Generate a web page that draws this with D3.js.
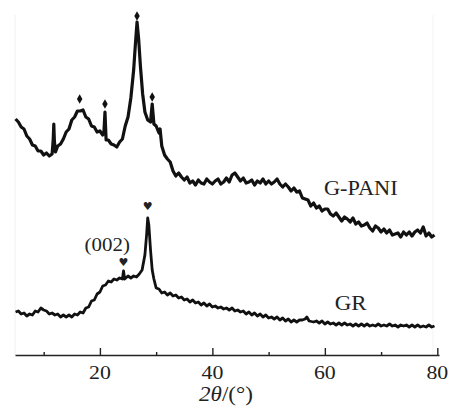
<!DOCTYPE html>
<html>
<head>
<meta charset="utf-8">
<title>XRD G-PANI / GR</title>
<script src="https://d3js.org/d3.v7.min.js"></script>
<style>
  body { margin: 0; background: #fff; }
  svg text { font-family: "Liberation Serif", "Times New Roman", serif; fill: #222; }
  .trace { fill: none; stroke: #111; stroke-linejoin: round; }
</style>
</head>
<body>
<svg width="457" height="407"></svg>
<script>
// 2theta (deg) vs intensity (a.u.)
var gpani = [
  [5.0,236],[5.5,233],[6.0,228],[6.5,226],[7.0,219],[7.5,216],[8.0,210],[8.5,209],[9.0,204],[9.5,204],
  [10.0,200],[10.5,202],[11.0,199],[11.5,201],[11.7,216],[11.8,231],[11.9,214],[12.1,203],[12.5,209],[13.0,211],
  [13.5,216],[14.0,223],[14.5,226],[15.0,235],[15.5,238],[16.0,244],[16.5,244],[17.0,245],[17.5,238],[18.0,236],
  [18.5,229],[19.0,228],[19.5,223],[20.0,224],[20.5,220],[20.7,222],[20.9,243],[21.1,215],[21.5,215],[22.0,211],
  [22.5,210],[23.0,208],[23.5,213],[24.0,216],[24.5,229],[25.0,238],[25.5,257],[26.0,285],[26.3,310],[26.6,333],
  [26.9,315],[27.2,289],[27.6,261],[28.0,243],[28.5,235],[29.0,233],[29.3,251],[29.6,231],[30.0,229],[30.5,222],
  [30.7,226],[31.0,209],[31.5,200],[32.0,196],[32.5,193],[33.0,184],[33.5,179],[34.0,182],[34.5,178],[35.0,175],
  [35.5,178],[36.0,172],[36.5,174],[37.0,170],[37.5,175],[38.0,172],[38.5,171],[39.0,176],[39.5,173],[40.0,171],
  [40.5,174],[41.0,176],[41.5,171],[42.0,173],[42.5,177],[43.0,173],[43.5,180],[44.0,182],[44.5,178],[45.0,174],
  [45.5,177],[46.0,172],[46.5,173],[47.0,175],[47.5,170],[48.0,174],[48.5,172],[49.0,176],[49.5,171],[50.0,174],
  [50.5,171],[51.0,173],[51.5,176],[52.0,171],[52.5,168],[53.0,171],[53.5,168],[54.0,164],[54.5,167],[55.0,163],
  [55.5,164],[56.0,157],[56.5,156],[57.0,155],[57.5,149],[58.0,152],[58.5,147],[59.0,149],[59.5,144],[60.0,146],
  [60.5,146],[61.0,141],[61.5,139],[62.0,142],[62.5,138],[63.0,134],[63.5,138],[64.0,136],[64.5,133],[65.0,137],
  [65.5,131],[66.0,133],[66.5,129],[67.0,130],[67.5,132],[68.0,127],[68.5,124],[69.0,129],[69.5,127],[70.0,123],
  [70.5,126],[71.0,122],[71.5,125],[72.0,120],[72.5,121],[73.0,122],[73.5,118],[74.0,123],[74.5,120],[75.0,123],
  [75.5,119],[76.0,123],[76.5,125],[77.0,122],[77.5,128],[78.0,119],[78.5,122],[79.0,118],[79.5,120]
];

var gr = [
  [5.0,43],[5.5,44],[6.0,41],[6.5,42],[7.0,39],[7.5,41],[8.0,40],[8.5,44],[9.0,43],[9.5,47],
  [10.0,45],[10.5,44],[11.0,41],[11.5,42],[12.0,40],[12.5,41],[13.0,38],[13.5,40],[14.0,38],[14.5,40],
  [15.0,38],[15.5,41],[16.0,40],[16.5,43],[17.0,42],[17.5,47],[18.0,48],[18.5,54],[19.0,55],[19.5,61],
  [20.0,63],[20.5,69],[21.0,70],[21.5,74],[22.0,73],[22.5,76],[23.0,75],[23.5,77],[24.0,76],[24.2,84],
  [24.4,76],[25.0,79],[25.5,77],[26.0,79],[26.5,78],[27.0,81],[27.5,85],[28.0,100],[28.3,120],[28.5,137],
  [28.7,130],[29.0,105],[29.3,85],[29.6,76],[30.0,67],[30.5,66],[31.0,62],[31.5,63],[32.0,60],[32.5,62],
  [33.0,59],[33.5,60],[34.0,57],[34.5,58],[35.0,55],[35.5,56],[36.0,53],[36.5,55],[37.0,52],[37.5,53],
  [38.0,50],[38.5,52],[39.0,49],[39.5,51],[40.0,48],[40.5,49],[41.0,47],[41.5,48],[42.0,46],[42.5,47],
  [43.0,45],[43.5,47],[44.0,44],[44.5,45],[45.0,43],[45.5,44],[46.0,41],[46.5,43],[47.0,40],[47.5,42],
  [48.0,39],[48.5,41],[49.0,38],[49.5,40],[50.0,37],[50.5,38],[51.0,36],[51.5,38],[52.0,35],[52.5,37],
  [53.0,34],[53.5,36],[54.0,33],[54.5,35],[55.0,33],[55.5,35],[56.0,35],[56.5,36],[56.8,38],[57.2,34],
  [58.0,33],[58.5,34],[59.0,32],[59.5,34],[60.0,31],[60.5,33],[61.0,31],[61.5,32],[62.0,30],[62.5,32],
  [63.0,30],[63.5,32],[64.0,30],[64.5,31],[65.0,29],[65.5,31],[66.0,29],[66.5,31],[67.0,29],[67.5,31],
  [68.0,29],[68.5,30],[69.0,29],[69.5,31],[70.0,29],[70.5,30],[71.0,29],[71.5,31],[72.0,29],[72.5,30],
  [73.0,28],[73.5,30],[74.0,29],[74.5,30],[75.0,28],[75.5,30],[76.0,28],[76.5,30],[77.0,28],[77.5,29],
  [78.0,28],[78.5,30],[79.0,28],[79.5,29]
];

// peak markers (angle, intensity where the symbol sits)
var gpaniMarks = [[16.4,256],[20.9,251],[26.6,339],[29.3,258]];
var grMarks = [[24.2,93],[28.5,149]];

var majorTicks = [20, 40, 60, 80];
var minorTicks = [10, 30, 50, 70];

var svg = d3.select("svg");

var x = d3.scaleLinear().domain([4.9, 80.3]).range([15, 439]);
var y = d3.scaleLinear().domain([0, 340]).range([355, 15]);

// faint frame edges seen in the scan
svg.append("line").attr("x1", 15).attr("x2", 15).attr("y1", 15).attr("y2", 355)
  .attr("stroke", "#f0f0f0").attr("stroke-width", 1);
svg.append("line").attr("x1", 433).attr("x2", 433).attr("y1", 15).attr("y2", 355)
  .attr("stroke", "#f3f3f3").attr("stroke-width", 1);

var line = d3.line()
  .x(function(d){ return x(d[0]); })
  .y(function(d){ return y(d[1]); });

svg.append("path").datum(gpani).attr("class", "trace").attr("stroke-width", 3.2).attr("d", line);
svg.append("path").datum(gr).attr("class", "trace").attr("stroke-width", 2.8).attr("d", line);

// x axis: ticks pointing inward (up)
var axis = svg.append("g").attr("transform", "translate(0,355)");
axis.call(d3.axisTop(x).tickValues(majorTicks).tickSize(7).tickSizeOuter(0).tickFormat(""));
axis.append("g").call(d3.axisTop(x).tickValues(minorTicks).tickSize(3).tickSizeOuter(0).tickFormat(""));
axis.selectAll(".domain").attr("stroke", "#222").attr("stroke-width", 1.6);
axis.selectAll(".tick line").attr("stroke", "#222").attr("stroke-width", 1.4);
axis.selectAll("g > g > .domain").remove();

majorTicks.forEach(function(t){
  svg.append("text")
    .attr("transform", "translate(" + x(t) + ",379) scale(1.15,1)")
    .attr("text-anchor", "middle")
    .style("font-size", "19px")
    .text(t);
});

var xl = svg.append("text")
  .attr("transform", "translate(226,401) scale(1.1,1)")
  .attr("text-anchor", "middle")
  .style("font-size", "21px");
xl.append("tspan").style("font-style", "italic").text("2\u03b8");
xl.append("tspan").text("/(\u00b0)");

// markers
svg.selectAll(".dia").data(gpaniMarks).enter().append("path")
  .attr("class", "dia")
  .attr("transform", function(d){ return "translate(" + x(d[0]) + "," + y(d[1]) + ")"; })
  .attr("d", d3.symbol().type(d3.symbolDiamond).size(26))
  .attr("fill", "#111");

svg.selectAll(".heart").data(grMarks).enter().append("text")
  .attr("class", "heart")
  .attr("x", function(d){ return x(d[0]); })
  .attr("y", function(d){ return y(d[1]) + 4; })
  .attr("text-anchor", "middle")
  .style("font-family", "DejaVu Sans")
  .style("font-size", "11px")
  .text("\u2665");

// series labels
svg.append("text")
  .attr("transform", "translate(" + x(66.4) + ",195) scale(1.12,1)")
  .attr("text-anchor", "middle")
  .style("font-size", "20px")
  .text("G-PANI");

svg.append("text")
  .attr("transform", "translate(" + x(64.6) + ",310) scale(1.15,1)")
  .attr("text-anchor", "middle")
  .style("font-size", "20px")
  .text("GR");

svg.append("text")
  .attr("transform", "translate(" + x(21.3) + ",251) scale(1.1,1)")
  .attr("text-anchor", "middle")
  .style("font-size", "19px")
  .text("(002)");
</script>
</body>
</html>
